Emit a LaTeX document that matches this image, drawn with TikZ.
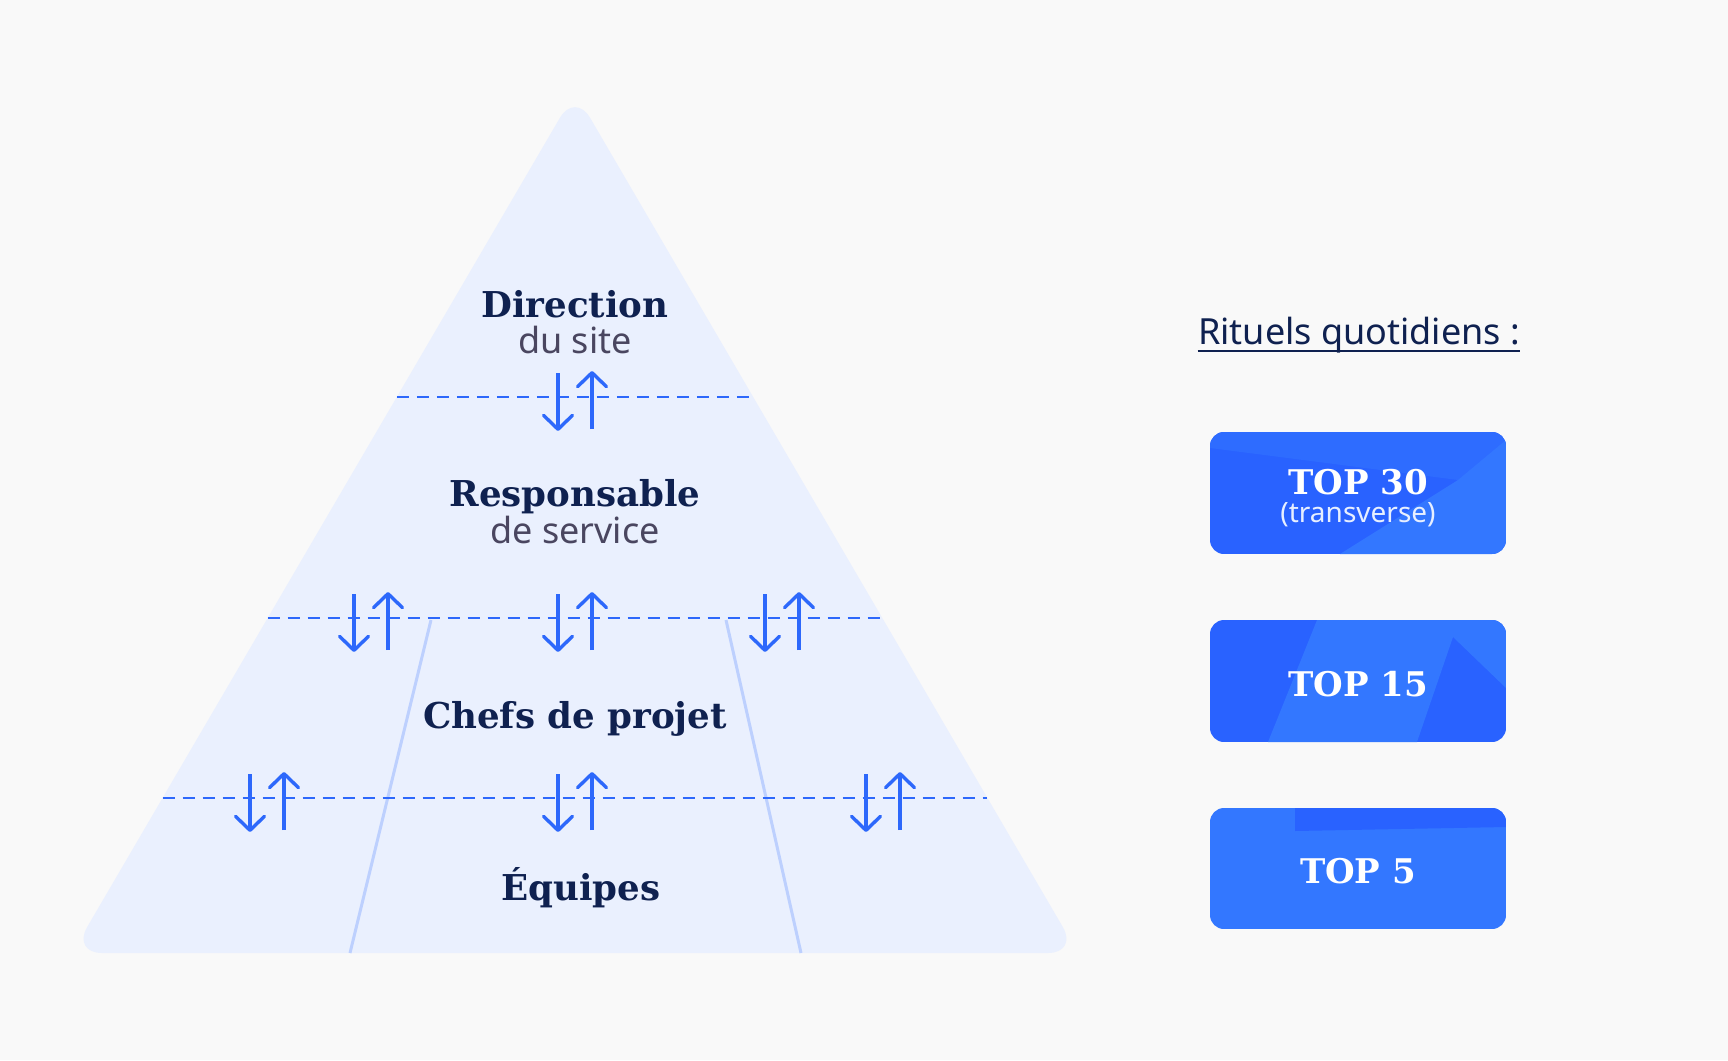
\documentclass[tikz,border=0pt]{standalone}
\usepackage{fontspec}
\setmainfont{DejaVu Serif}
\newfontfamily\sansfam{Noto Sans}
\usepackage{xcolor}
\usetikzlibrary{arrows.meta,calc,positioning}

\definecolor{fond}{HTML}{F9F9F9}
\definecolor{pyra}{HTML}{EAF0FE}
\definecolor{trait}{HTML}{2D68FB}
\definecolor{voie}{HTML}{BDD0FE}
\definecolor{marine}{HTML}{0F2150}
\definecolor{gris}{HTML}{4A4660}
\definecolor{topsombre}{HTML}{2962FF}
\definecolor{topmoyen}{HTML}{2E6CFF}
\definecolor{topclair}{HTML}{3377FF}

\tikzset{
  niveau/.style={font=\fontsize{17.8}{20}\selectfont\bfseries, text=marine, inner sep=0pt, anchor=base},
  sousniveau/.style={font=\sansfam\fontsize{18}{21}\selectfont, text=gris, inner sep=0pt, anchor=base},
  seuil/.style={trait, line width=1pt, dash pattern=on 6pt off 4pt},
  flux/.style={trait, line width=1.7pt, ->},
  couloir/.style={voie, line width=1.5pt},
  toptext/.style={font=\fontsize{17}{20}\selectfont\bfseries, text=white, inner sep=0pt, anchor=base}
}

\begin{document}
\begin{tikzpicture}[x=0.5pt,y=-0.5pt,>={Straight Barb[length=7pt,width=14.5pt,round]}]
  % fond
  \fill[fond] (0,0) rectangle (1728,1060);
  \useasboundingbox (0,0) rectangle (1728,1060);

  % pyramide
  \coordinate (sommet) at (575,92);
  \coordinate (basg) at (72,953);
  \coordinate (basd) at (1078,953);
  \fill[pyra, rounded corners=15pt] (sommet) -- (basd) -- (basg) -- cycle;

  % couloirs
  \coordinate (cg1) at (431,620);
  \coordinate (cg2) at (350,953);
  \coordinate (cd1) at (726,620);
  \coordinate (cd2) at (801,953);
  \draw[couloir] (cg1) -- (cg2);
  \draw[couloir] (cd1) -- (cd2);

  % seuils
  \draw[seuil] ($(sommet)!0.354!(basg)$) -- ($(sommet)!0.354!(basd)$);
  \draw[seuil] ($(sommet)!0.611!(basg)$) -- ($(sommet)!0.611!(basd)$);
  \draw[seuil] ($(sommet)!0.820!(basg)$) -- ($(sommet)!0.820!(basd)$);

  % echanges
  \foreach \cx/\cy [count=\i] in {575/397, 371/618, 575/618, 782/618, 267/798, 575/798, 883/798}{
    \coordinate (e\i) at (\cx,\cy);
    \draw[flux] ([shift={(-17,-24)}]e\i) -- ([shift={(-17,34)}]e\i);
    \draw[flux] ([shift={(17,32)}]e\i) -- ([shift={(17,-26)}]e\i);
  }

  % niveaux
  \node[niveau] (direction) at (575,317) {Direction};
  \node[sousniveau] (site) at (575,353) {du site};
  \node[niveau] (responsable) at (575,506) {Responsable};
  \node[sousniveau] (service) at (575,543) {de service};
  \node[niveau] (chefs) at (575,728) {Chefs de projet};
  \node[niveau] (equipes) at (581,900) {Équipes};

  % rituels
  \node[sousniveau, text=marine] (rituels) at (1359,344) {Rituels quotidiens :};
  \draw[marine, line width=0.8pt] ([yshift=-3.5pt]rituels.base west) -- ([yshift=-3.5pt]rituels.base east);

  \begin{scope}
    \clip[rounded corners=7pt] (1210,432) rectangle (1506,554);
    \fill[topsombre] (1210,432) rectangle (1506,554);
    \fill[topmoyen] (1210,432) -- (1506,432) -- (1506,468) -- (1458,480) -- (1210,448) -- cycle;
    \fill[topclair] (1506,440) -- (1506,554) -- (1340,554) -- (1458,480) -- cycle;
  \end{scope}
  \node[toptext] (top30) at (1358,494) {TOP 30};
  \node[sousniveau, text=white!88!topclair, font=\sansfam\fontsize{14}{16}\selectfont] (transverse) at (1358,522) {(transverse)};

  \begin{scope}
    \clip[rounded corners=7pt] (1210,620) rectangle (1506,742);
    \fill[topsombre] (1210,620) rectangle (1506,742);
    \fill[topclair] (1317,620) -- (1506,620) -- (1506,688) -- (1453,637) -- (1417,742) -- (1268,742) -- cycle;
  \end{scope}
  \node[toptext] (top15) at (1358,696) {TOP 15};

  \begin{scope}
    \clip[rounded corners=7pt] (1210,808) rectangle (1506,929);
    \fill[topclair] (1210,808) rectangle (1506,929);
    \fill[topsombre] (1295,808) -- (1506,808) -- (1506,827) -- (1295,831) -- cycle;
  \end{scope}
  \node[toptext] (top5) at (1358,883) {TOP 5};
\end{tikzpicture}
\end{document}
